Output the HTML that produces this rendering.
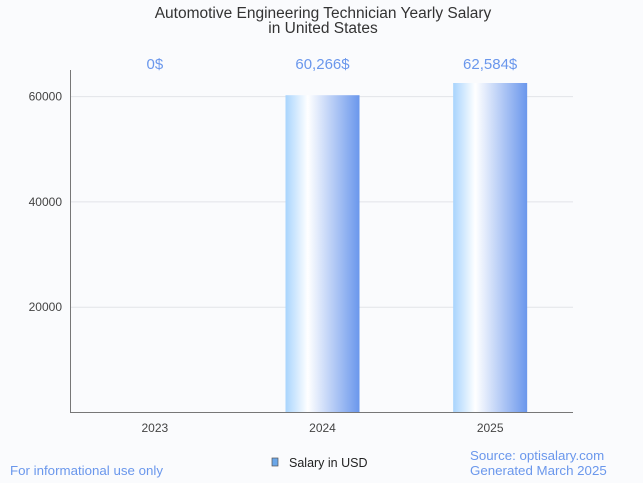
<!DOCTYPE html>
<html><head><meta charset="utf-8"><style>
body{margin:0;background:#fafbfd;font-family:"Liberation Sans",sans-serif;}
svg{display:block}
</style></head><body>
<svg width="643" height="483">
<defs><linearGradient id="g" x1="0" x2="1"><stop offset="0" stop-color="#a8d4fd"/><stop offset="0.3" stop-color="#ffffff"/><stop offset="1" stop-color="#6a97ec"/></linearGradient></defs>
<rect width="643" height="483" fill="#fafbfd"/>
<text x="323" y="18" text-anchor="middle" font-size="15.5" fill="#333">Automotive Engineering Technician Yearly Salary</text>
<text x="323" y="33" text-anchor="middle" font-size="15.5" fill="#333">in United States</text>
<g id="grid"></g><g id="bars"></g>
<line x1="70.5" y1="70" x2="70.5" y2="412.5" stroke="#777"/>
<line x1="70" y1="412.5" x2="573" y2="412.5" stroke="#777"/>
<rect x="272" y="458" width="6" height="8" fill="#6aa6e8" stroke="#555" stroke-width="0.7"/>
<text x="289" y="467" font-size="12.5" fill="#222">Salary in USD</text>
<text x="10" y="475" font-size="13.3" fill="#6a97ec">For informational use only</text>
<text x="470" y="460" font-size="13.3" fill="#6a97ec">Source: optisalary.com</text>
<text x="470" y="475" font-size="13.3" fill="#6a97ec">Generated March 2025</text>
</svg>
<script>
const categories=["2023","2024","2025"];
const values=[0,60266,62584];
const valueLabels=["0$","60,266$","62,584$"];
const yTicks=[20000,40000,60000];
const NS="http://www.w3.org/2000/svg";
const x0=70,x1=573,yBase=412.5,pxPer=105.3/20000;
const y=v=>yBase-v*pxPer;
const bw=(x1-x0)/categories.length;
const xc=i=>x0+bw*(i+0.5)+1;
function mk(t,a,p){const e=document.createElementNS(NS,t);for(const k in a)e.setAttribute(k,a[k]);p.appendChild(e);return e;}
const grid=document.getElementById('grid'),bars=document.getElementById('bars');
yTicks.forEach(v=>{
 const l=mk('line',{x1:x0,x2:x1,y1:y(v),y2:y(v),stroke:'#e2e4e8'},grid);
 
 
 const t=mk('text',{x:62,y:y(v)+4,'text-anchor':'end','font-size':12,fill:'#444'},grid);
 t.textContent=v;
 
 
});
categories.forEach((c,i)=>{
 const r=mk('rect',{x:xc(i)-37,y:y(values[i]),width:74,height:values[i]*pxPer,fill:'url(#g)'},bars);
 
 
 const t=mk('text',{x:xc(i),y:432,'text-anchor':'middle','font-size':12,fill:'#444'},bars);
 t.textContent=c;
 
 
 const vl=mk('text',{x:xc(i),y:69,'text-anchor':'middle','font-size':15,fill:'#6a97ec'},bars);
 vl.textContent=valueLabels[i];
 
 
});
</script>
</body></html>
